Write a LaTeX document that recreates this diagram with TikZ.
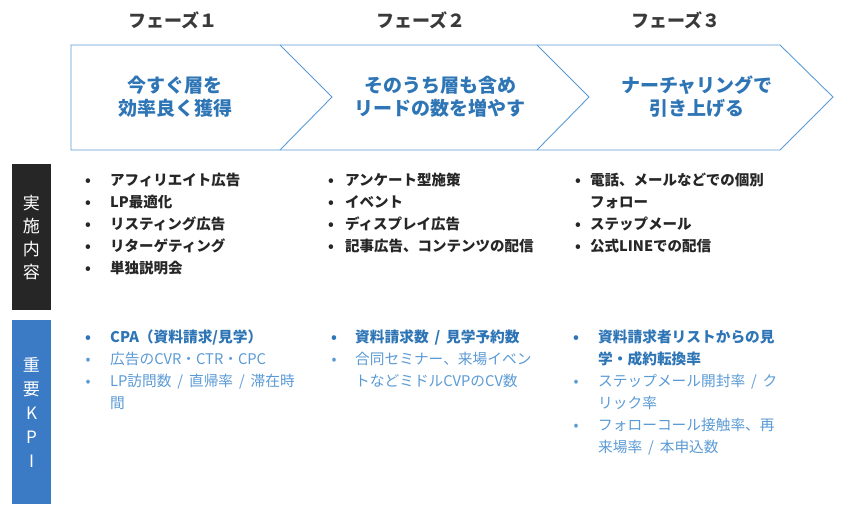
\documentclass[tikz,border=0pt]{standalone}
\usepackage{fontspec}
\newfontfamily\jpfont{Noto Sans CJK JP}
\definecolor{lineBlue}{HTML}{5B9BD5}
\definecolor{goalBlue}{HTML}{2E75B6}
\definecolor{kpiBlue}{HTML}{5B9BD5}
\definecolor{boxDark}{HTML}{262626}
\definecolor{boxBlue}{HTML}{3B7BC6}
\definecolor{headGray}{HTML}{3A3A3A}
\newcommand\slashsep{\hspace{0.4em}/\hspace{0.4em}}
\tikzset{
  phaseline/.style={draw=lineBlue,line width=0.9pt},
  phasehead/.style={text=headGray,font=\jpfont\bfseries\fontsize{18}{20}\selectfont},
  phasegoal/.style={text=goalBlue,align=center,font=\jpfont\bfseries\fontsize{19}{23}\selectfont},
  sidebox/.style={text=white,align=center,minimum width=39pt,inner sep=0pt,font=\jpfont\fontsize{17}{24}\selectfont},
  entry/.style={anchor=base west,inner sep=0pt,font=\jpfont\fontsize{14.7}{22}\selectfont},
  doing/.style={text=boxDark,font=\jpfont\bfseries\fontsize{14.5}{22}\selectfont},
  kpimain/.style={text=goalBlue,font=\jpfont\bfseries\fontsize{14.7}{22}\selectfont},
  kpisub/.style={text=kpiBlue},
}
\NewDocumentCommand\ListItem{O{}mmmmm}%
{%
\node[entry,#1,anchor=base] (#2dot) at ({#3},{#5}) {•};%
\node[entry,#1] (#2) at ({#4},{#5}) {\begin{tabular}[t]{@{}l@{}}#6\end{tabular}};%
}

\begin{document}
\begin{tikzpicture}[x=1pt,y=-1pt]
\useasboundingbox[fill=white] (0,0) rectangle (847,514);
% phases
\draw[phaseline] (71,45) -- (780,45) -- (833,97) -- (780,150) -- (71,150) -- cycle;
\foreach \x in {280,537}
	\draw[phaseline] (\x,45) -- ({\x+52},97) -- (\x,150);
\node[phasehead] (head1) at (173,20) {フェーズ１};
\node[phasehead] (head2) at (421,20) {フェーズ２};
\node[phasehead] (head3) at (676,20) {フェーズ３};
\node[phasegoal] (goal1) at (175,97) {今すぐ層を\\効率良く獲得};
\node[phasegoal] (goal2) at (440,97) {そのうち層も含め\\リードの数を増やす};
\node[phasegoal] (goal3) at (697,97) {ナーチャリングで\\引き上げる};
% side labels
\fill[boxDark] (12,164) rectangle (51,310);
\fill[boxBlue] (12,320) rectangle (51,504);
\node[sidebox,font=\jpfont\fontsize{17}{23}\selectfont] (doinglabel) at (31.5,238) {実\\施\\内\\容};
\node[sidebox] (kpilabel) at (31.5,412) {重\\要\\K\\P\\I};
% measures
\ListItem[doing]{a1}{88}{110}{185}{アフィリエイト広告}
\ListItem[doing]{a2}{88}{110}{207}{LP最適化}
\ListItem[doing]{a3}{88}{110}{229}{リスティング広告}
\ListItem[doing]{a4}{88}{110}{251}{リターゲティング}
\ListItem[doing]{a5}{88}{110}{273}{単独説明会}
\ListItem[doing]{b1}{331}{345}{185}{アンケート型施策}
\ListItem[doing]{b2}{331}{345}{207}{イベント}
\ListItem[doing]{b3}{331}{345}{229}{ディスプレイ広告}
\ListItem[doing]{b4}{331}{345}{251}{記事広告、コンテンツの配信}
\ListItem[doing]{c1}{578}{590}{185}{電話、メールなどでの個別\\フォロー}
\ListItem[doing]{c2}{578}{590}{229}{ステップメール}
\ListItem[doing]{c3}{578}{590}{251}{公式LINEでの配信}
% kpi
\ListItem[kpimain]{ka1}{88}{110}{342}{CPA（資料請求/見学）}
\ListItem[kpisub]{ka2}{88}{110}{364}{広告のCVR・CTR・CPC}
\ListItem[kpisub]{ka3}{88}{110}{386}{LP訪問数\slashsep 直帰率\slashsep 滞在時\\間}
\ListItem[kpimain]{kb1}{334}{355}{342}{資料請求数\slashsep 見学予約数}
\ListItem[kpisub]{kb2}{334}{355}{364}{合同セミナー、来場イベン\\トなどミドルCVPのCV数}
\ListItem[kpimain]{kc1}{576}{598}{342}{資料請求者リストからの見\\学・成約転換率}
\ListItem[kpisub]{kc2}{576}{598}{386}{ステップメール開封率\slashsep ク\\リック率}
\ListItem[kpisub]{kc3}{576}{598}{430}{フォローコール接触率、再\\来場率\slashsep 本申込数}
\end{tikzpicture}
\end{document}
